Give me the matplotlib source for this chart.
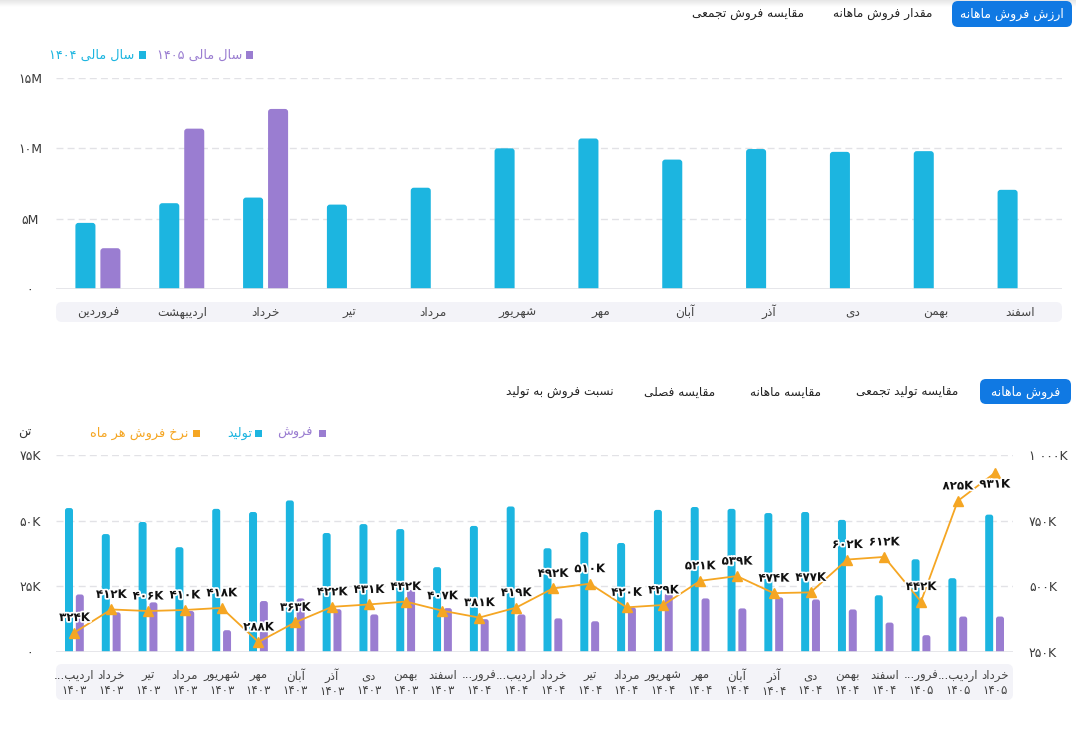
import numpy as np
import matplotlib
matplotlib.use("Agg")
import matplotlib.pyplot as plt
from matplotlib.patches import FancyBboxPatch, Rectangle
import matplotlib.patheffects as pe

# ---------------- data ----------------
months = ["فروردین", "اردیبهشت", "خرداد", "تیر", "مرداد", "شهریور",
          "مهر", "آبان", "آذر", "دی", "بهمن", "اسفند"]
value_1404 = [4.7, 6.1, 6.5, 6.0, 7.2, 10.0, 10.7, 9.2, 9.95, 9.75, 9.8, 7.05]   # million
value_1405 = [2.9, 11.4, 12.8]                                                 # million
top_ticks = [0, 5, 10, 15]
top_tick_labels = ["۰", "۵M", "۱۰M", "۱۵M"]

period_month = ["اردیب...", "خرداد", "تیر", "مرداد", "شهریور", "مهر", "آبان", "آذر",
                "دی", "بهمن", "اسفند", "فرور...", "اردیب...", "خرداد", "تیر", "مرداد",
                "شهریور", "مهر", "آبان", "آذر", "دی", "بهمن", "اسفند", "فرور...",
                "اردیب...", "خرداد"]
period_year = ["۱۴۰۳"] * 11 + ["۱۴۰۴"] * 12 + ["۱۴۰۵"] * 3
sales = [21.9, 15.1, 18.9, 15.6, 8.3, 19.4, 20.4, 16.3, 14.3, 23.6, 16.7, 12.5, 14.3,
         12.8, 11.7, 17.0, 22.3, 20.4, 16.6, 20.8, 20.0, 16.2, 11.2, 6.4, 13.5, 13.5]   # K ton
production = [54.8, 44.9, 49.5, 39.9, 54.5, 53.3, 57.7, 45.3, 48.7, 46.8, 32.3, 48.0, 55.4,
              39.5, 45.7, 41.5, 54.1, 55.2, 54.5, 52.9, 53.3, 50.3, 21.6, 35.3, 28.1, 52.3]
price = [324, 412, 406, 410, 418, 288, 363, 422, 431, 442, 407, 381, 419,
         492, 510, 420, 429, 521, 539, 474, 477, 602, 612, 442, 825, 931]       # K
left_ticks = [0, 25, 50, 75]
left_tick_labels = ["۰", "۲۵K", "۵۰K", "۷۵K"]
right_ticks = [250, 500, 750, 1000]
right_tick_labels = ["۲۵۰K", "۵۰۰K", "۷۵۰K", "۱ ۰۰۰K"]

top_tabs = ["ارزش فروش ماهانه", "مقدار فروش ماهانه", "مقایسه فروش تجمعی"]
bottom_tabs = ["فروش ماهانه", "مقایسه تولید تجمعی", "مقایسه ماهانه", "مقایسه فصلی", "نسبت فروش به تولید"]

# ---------------- persian shaping ----------------
FORMS = {
    'ا': ('\uFE8D', '\uFE8E', None, None), 'آ': ('\uFE81', '\uFE82', None, None),
    'ب': ('\uFE8F', '\uFE90', '\uFE91', '\uFE92'), 'پ': ('\uFB56', '\uFB57', '\uFB58', '\uFB59'),
    'ت': ('\uFE95', '\uFE96', '\uFE97', '\uFE98'), 'ث': ('\uFE99', '\uFE9A', '\uFE9B', '\uFE9C'),
    'ج': ('\uFE9D', '\uFE9E', '\uFE9F', '\uFEA0'), 'چ': ('\uFB7A', '\uFB7B', '\uFB7C', '\uFB7D'),
    'ح': ('\uFEA1', '\uFEA2', '\uFEA3', '\uFEA4'), 'خ': ('\uFEA5', '\uFEA6', '\uFEA7', '\uFEA8'),
    'د': ('\uFEA9', '\uFEAA', None, None), 'ذ': ('\uFEAB', '\uFEAC', None, None),
    'ر': ('\uFEAD', '\uFEAE', None, None), 'ز': ('\uFEAF', '\uFEB0', None, None),
    'ژ': ('\uFB8A', '\uFB8B', None, None),
    'س': ('\uFEB1', '\uFEB2', '\uFEB3', '\uFEB4'), 'ش': ('\uFEB5', '\uFEB6', '\uFEB7', '\uFEB8'),
    'ص': ('\uFEB9', '\uFEBA', '\uFEBB', '\uFEBC'), 'ض': ('\uFEBD', '\uFEBE', '\uFEBF', '\uFEC0'),
    'ط': ('\uFEC1', '\uFEC2', '\uFEC3', '\uFEC4'), 'ظ': ('\uFEC5', '\uFEC6', '\uFEC7', '\uFEC8'),
    'ع': ('\uFEC9', '\uFECA', '\uFECB', '\uFECC'), 'غ': ('\uFECD', '\uFECE', '\uFECF', '\uFED0'),
    'ف': ('\uFED1', '\uFED2', '\uFED3', '\uFED4'), 'ق': ('\uFED5', '\uFED6', '\uFED7', '\uFED8'),
    'ک': ('\uFB8E', '\uFB8F', '\uFB90', '\uFB91'), 'گ': ('\uFB92', '\uFB93', '\uFB94', '\uFB95'),
    'ل': ('\uFEDD', '\uFEDE', '\uFEDF', '\uFEE0'), 'م': ('\uFEE1', '\uFEE2', '\uFEE3', '\uFEE4'),
    'ن': ('\uFEE5', '\uFEE6', '\uFEE7', '\uFEE8'), 'ه': ('\uFEE9', '\uFEEA', '\uFEEB', '\uFEEC'),
    'و': ('\uFEED', '\uFEEE', None, None), 'ی': ('\uFBFC', '\uFBFD', '\uFBFE', '\uFBFF'),
}


def _ltr(c):
    return c.isdigit() or ('A' <= c <= 'Z') or ('a' <= c <= 'z')


def fa(text):
    lines = []
    for s in text.split("\n"):
        if not any(c in FORMS for c in s):
            lines.append(s)
            continue
        out = []
        for i, c in enumerate(s):
            if c not in FORMS:
                out.append(c)
                continue
            prev = s[i - 1] if i > 0 else ''
            nxt = s[i + 1] if i + 1 < len(s) else ''
            jp = prev in FORMS and FORMS[prev][2] is not None
            jn = FORMS[c][2] is not None and nxt in FORMS
            iso, fin, ini, med = FORMS[c]
            if jp and jn:
                out.append(med)
            elif jp:
                out.append(fin)
            elif jn:
                out.append(ini)
            else:
                out.append(iso)
        shaped = "".join(out)
        runs = []
        for c in shaped:
            t = _ltr(c)
            if runs and runs[-1][0] == t:
                runs[-1][1].append(c)
            else:
                runs.append([t, [c]])
        vis = ""
        for t, chars in reversed(runs):
            vis += "".join(chars) if t else "".join(reversed(chars))
        lines.append(vis)
    return "\n".join(lines)


# ---------------- style ----------------
CYAN = "#1cb5e0"
PURPLE = "#9a7dd1"
ORANGE = "#f5a623"
BLUE = "#1079e3"
GRID = "#e2e2e6"
BAND = "#f3f3f8"
TXT = "#3a3a3a"
plt.rcParams['font.family'] = ['DejaVu Sans']

W, H = 1076, 730
fig = plt.figure(figsize=(W / 100, H / 100), dpi=100)
fig.patch.set_facecolor("white")


def fx(x):
    return x / W


def fy(y):
    return 1 - y / H


def rect_px(x0, y0, x1, y1, color, r=6, z=1):
    p = FancyBboxPatch((fx(x0), fy(y1)), fx(x1) - fx(x0), fy(y0) - fy(y1),
                       boxstyle=f"round,pad=0,rounding_size={r / W}",
                       transform=fig.transFigure, facecolor=color, edgecolor="none",
                       zorder=z, mutation_aspect=W / H)
    fig.add_artist(p)


def text_px(x, y, s, color=TXT, size=9, ha="center", weight="normal"):
    fig.text(fx(x), fy(y), fa(s), color=color, fontsize=size, ha=ha, va="center",
             fontweight=weight, zorder=5)


def square_px(x, y, color, s=7):
    fig.add_artist(Rectangle((fx(x - s / 2), fy(y + s / 2)), s / W, s / H,
                             transform=fig.transFigure, facecolor=color, edgecolor="none"))


def round_bars(ax, container, r_px, xr, yr, wpx, hpx):
    xu = xr / wpx
    yu = yr / hpx
    for b in container.patches:
        x0, w, h = b.get_x(), b.get_width(), b.get_height()
        b.set_visible(False)
        p = FancyBboxPatch((x0, -r_px * yu), w, h + r_px * yu,
                           boxstyle=f"round,pad=0,rounding_size={r_px * xu}",
                           mutation_aspect=yu / xu, facecolor=b.get_facecolor(),
                           edgecolor="none", zorder=3)
        ax.add_patch(p)


# top shadow
shadow = fig.add_axes([0, fy(7), 1, 7 / H])
shadow.imshow(np.linspace(0.9, 1.0, 20).reshape(-1, 1), cmap="gray", vmin=0, vmax=1,
              aspect="auto", extent=[0, 1, 0, 1])
shadow.axis("off")
shadow.set_zorder(-5)

# ---------------- top tabs ----------------
rect_px(952, 1, 1072, 27, BLUE, r=6)
text_px(1012, 14, top_tabs[0], color="white", size=9)
text_px(883, 14, top_tabs[1], color="#222222", size=8.7)
text_px(748, 14, top_tabs[2], color="#222222", size=8.7)

# top legend
square_px(249, 55, PURPLE)
text_px(242, 55, "سال مالی ۱۴۰۵", color=PURPLE, size=9.3, ha="right")
square_px(142, 55, CYAN)
text_px(134, 55, "سال مالی ۱۴۰۴", color=CYAN, size=9.3, ha="right")

# ---------------- top chart ----------------
ax1 = fig.add_axes([fx(56), fy(289), (1062 - 56) / W, (289 - 78) / H])
x = np.arange(len(months))
bw = 0.239
off = 0.149
c1 = ax1.bar(x - off, value_1404, width=bw, color=CYAN, zorder=3)
c2 = ax1.bar(np.arange(len(value_1405)) + off, value_1405, width=bw, color=PURPLE, zorder=3)
ax1.set_xlim(-0.5, len(months) - 0.5)
ax1.set_ylim(0, 15)
round_bars(ax1, c1, 3, 12, 15, 1006, 211)
round_bars(ax1, c2, 3, 12, 15, 1006, 211)
ax1.set_yticks(top_ticks)
ax1.set_yticklabels(top_tick_labels)
ax1.tick_params(axis="y", length=0, pad=18.7, labelsize=9, labelcolor=TXT)
for lab in ax1.get_yticklabels():
    lab.set_ha("center")
ax1.set_xticks(x)
ax1.set_xticklabels([fa(m) for m in months])
ax1.tick_params(axis="x", length=0, pad=16.6, labelsize=8.7, labelcolor="#444444")
for lab in ax1.get_xticklabels():
    lab.set_va("center")
for s in ax1.spines.values():
    s.set_visible(False)
for t in top_ticks[1:]:
    ax1.axhline(t, color=GRID, lw=1, ls=(0, (5, 3)), zorder=1)
ax1.axhline(0, color=GRID, lw=1.2, zorder=4)
rect_px(56, 302, 1062, 322, BAND, r=6, z=-1)

# ---------------- bottom tabs ----------------
rect_px(980, 379, 1071, 404, BLUE, r=6)
text_px(1026, 392, bottom_tabs[0], color="white", size=9)
text_px(907, 392, bottom_tabs[1], color="#222222", size=8.7)
text_px(786, 392, bottom_tabs[2], color="#222222", size=8.7)
text_px(680, 392, bottom_tabs[3], color="#222222", size=8.7)
text_px(560, 392, bottom_tabs[4], color="#222222", size=8.7)

# bottom legend
square_px(322, 433, PURPLE)
text_px(313, 433, "فروش", color=PURPLE, size=9.3, ha="right")
square_px(258, 433, CYAN)
text_px(252, 433, "تولید", color=CYAN, size=9.3, ha="right")
square_px(196, 433, ORANGE)
text_px(188, 433, "نرخ فروش هر ماه", color=ORANGE, size=9.3, ha="right")
text_px(25, 433, "تن", color=TXT, size=9.3)

# ---------------- bottom chart ----------------
ax2 = fig.add_axes([fx(56), fy(652), (1013 - 56) / W, (652 - 455) / H])
n = len(production)
xb = np.arange(n)
bw2 = 0.217
off2 = 0.147
c3 = ax2.bar(xb - off2, production, width=bw2, color=CYAN, zorder=3)
c4 = ax2.bar(xb + off2, sales, width=bw2, color=PURPLE, zorder=3)
ax2.set_xlim(-0.5, n - 0.5)
ax2.set_ylim(0, 75)
round_bars(ax2, c3, 2.5, n, 75, 957, 197)
round_bars(ax2, c4, 2.5, n, 75, 957, 197)
ax2.set_yticks(left_ticks)
ax2.set_yticklabels(left_tick_labels)
ax2.tick_params(axis="y", length=0, pad=18.7, labelsize=9, labelcolor=TXT)
for lab in ax2.get_yticklabels():
    lab.set_ha("center")
ax2.set_xticks(xb)
ax2.set_xticklabels([fa(m + "\n" + y) for m, y in zip(period_month, period_year)],
                    linespacing=1.15)
ax2.tick_params(axis="x", length=0, pad=22.3, labelsize=8.5, labelcolor="#444444")
for lab in ax2.get_xticklabels():
    lab.set_va("center")
for s in ax2.spines.values():
    s.set_visible(False)
for t in left_ticks[1:]:
    ax2.axhline(t, color=GRID, lw=1, ls=(0, (5, 3)), zorder=1)
ax2.axhline(0, color=GRID, lw=1.2, zorder=4)
rect_px(56, 664, 1013, 700, BAND, r=6, z=-1)

ax2r = ax2.twinx()
ax2r.set_ylim(250, 1000)
ax2r.set_yticks(right_ticks)
ax2r.set_yticklabels(right_tick_labels)
ax2r.tick_params(axis="y", length=0, pad=11.5, labelsize=9, labelcolor=TXT)
for s in ax2r.spines.values():
    s.set_visible(False)
ax2r.plot(xb, price, color=ORANGE, lw=1.3, marker="^", ms=7, zorder=5)
px_per_k = (652 - 455) / 750.0
to_fa_digits = str.maketrans("0123456789", "۰۱۲۳۴۵۶۷۸۹")
for xi, v in zip(xb, price):
    above = v + (15 + 7) / px_per_k <= 1000
    dy = 15 if above else -11
    ax2r.annotate(str(v).translate(to_fa_digits) + "K",
                  (xi, v), xytext=(0, dy * 0.72), textcoords="offset points",
                  ha="center", va="center", fontsize=8.5, fontweight="bold", color="#111111",
                  path_effects=[pe.withStroke(linewidth=2.5, foreground="white")], zorder=6)

fig.savefig("out.png", dpi=100, facecolor="white")
